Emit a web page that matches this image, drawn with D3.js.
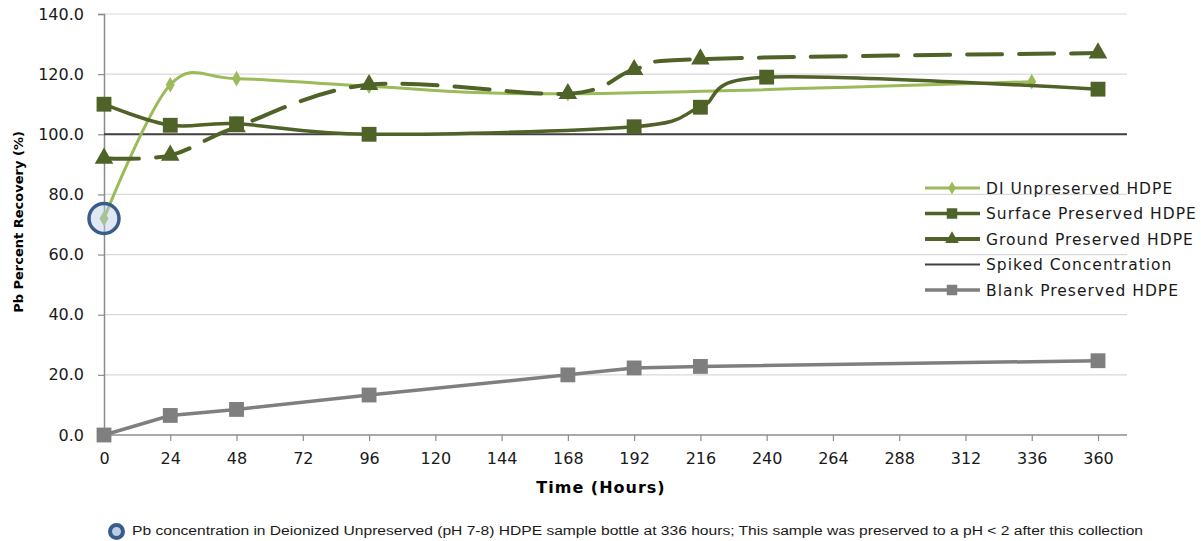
<!DOCTYPE html>
<html>
<head>
<meta charset="utf-8">
<script src="https://cdn.jsdelivr.net/npm/d3@7"></script>
<style>
  body { margin: 0; background: #fff; }
  svg { display: block; }
</style>
</head>
<body>
<div id="chart"></div>
<script>
// hours and recoveries (%)
var xTicks = [0, 24, 48, 72, 96, 120, 144, 168, 192, 216, 240, 264, 288, 312, 336, 360];
var yTicks = [0, 20, 40, 60, 80, 100, 120, 140];

var diHours    = [0, 24, 48, 96, 168, 336];
var diValues   = [72, 116.5, 118.5, 116, 113.5, 117.5];

var surfHours  = [0, 24, 48, 96, 192, 216, 240, 360];
var surfValues = [110, 103, 103.5, 100, 102.5, 109, 119, 115];

var groundHours  = [0, 24, 48, 96, 168, 192, 216, 360];
var groundValues = [92, 93, 102.5, 116.5, 113.5, 121.5, 125, 127];

var blankHours  = [0, 24, 48, 96, 168, 192, 216, 360];
var blankValues = [0, 6.5, 8.5, 13.3, 20, 22.3, 22.8, 24.7];

var spiked = 100;
var flagged = {hour: 0, value: 72};

var legendNames = ["DI Unpreserved HDPE", "Surface Preserved HDPE", "Ground Preserved HDPE",
                   "Spiked Concentration", "Blank Preserved HDPE"];
var footnote = "Pb concentration in Deionized Unpreserved (pH 7-8) HDPE sample bottle at 336 hours;  This sample was preserved to a pH < 2 after  this collection";

var W = 1201, H = 541;
var svg = d3.select("#chart").append("svg").attr("width", W).attr("height", H);

var x = d3.scaleLinear().domain([0, 370.5]).range([104, 1127]);
var y = d3.scaleLinear().domain([0, 140]).range([435, 14]);

var font = "'DejaVu Sans', Verdana, sans-serif";

// gridlines
svg.append("g").selectAll("line").data(yTicks.filter(function(d) { return d > 0; }))
  .enter().append("line")
  .attr("x1", x(0)).attr("x2", x.range()[1])
  .attr("y1", function(d) { return y(d); }).attr("y2", function(d) { return y(d); })
  .attr("stroke", "#d9d9d9").attr("stroke-width", 1.2);

// axes
var yAxis = svg.append("g").attr("transform", "translate(" + x(0) + ",0)")
  .call(d3.axisLeft(y).tickValues(yTicks).tickFormat(d3.format(".1f")).tickSize(6).tickPadding(14));
var xAxis = svg.append("g").attr("transform", "translate(0," + y(0) + ")")
  .call(d3.axisBottom(x).tickValues(xTicks).tickSize(6).tickPadding(12));
[xAxis, yAxis].forEach(function(a) {
  a.select(".domain").attr("stroke", "#8c8c8c").attr("stroke-width", 1.5);
  a.selectAll(".tick line").attr("stroke", "#8c8c8c").attr("stroke-width", 1.2);
  a.selectAll("text").attr("font-family", font).attr("font-size", 16).attr("fill", "#1a1a1a");
});
// x axis line runs full width
xAxis.select(".domain").attr("d", "M" + x(0) + ",0H" + x.range()[1]);

// axis titles
svg.append("text").attr("x", 601).attr("y", 493).attr("text-anchor", "middle")
  .attr("font-family", font).attr("font-size", 16).attr("font-weight", "bold")
  .attr("letter-spacing", 1).text("Time (Hours)");
svg.append("text").attr("transform", "translate(23,222) rotate(-90)").attr("text-anchor", "middle")
  .attr("font-family", font).attr("font-size", 13).attr("font-weight", "bold")
  .text("Pb Percent Recovery (%)");

function pts(hs, vs) { return hs.map(function(h, i) { return [h, vs[i]]; }); }

var smooth = d3.line().x(function(d) { return x(d[0]); }).y(function(d) { return y(d[1]); })
  .curve(d3.curveCardinal.tension(0));
var straight = d3.line().x(function(d) { return x(d[0]); }).y(function(d) { return y(d[1]); });

var lightGreen = "#9bbb59", darkGreen = "#4f6228", gray = "#7f7f7f", spikeCol = "#404040";

// spiked concentration
svg.append("line").attr("x1", x(0)).attr("x2", x.range()[1])
  .attr("y1", y(spiked)).attr("y2", y(spiked))
  .attr("stroke", spikeCol).attr("stroke-width", 2);

var sym = {
  diamond: d3.symbol().type(d3.symbolDiamond).size(70),
  square: d3.symbol().type(d3.symbolSquare).size(220),
  triangle: d3.symbol().type(d3.symbolTriangle).size(150)
};

function series(data, color, width, dash, curve, shape) {
  var g = svg.append("g");
  g.append("path").attr("d", curve(data)).attr("fill", "none")
    .attr("stroke", color).attr("stroke-width", width)
    .attr("stroke-dasharray", dash || null).attr("stroke-linecap", "round");
  g.selectAll("path.m").data(data).enter().append("path").attr("class", "m")
    .attr("transform", function(d) { return "translate(" + x(d[0]) + "," + y(d[1]) + ")"; })
    .attr("d", sym[shape]).attr("fill", color);
}

series(pts(diHours, diValues), lightGreen, 3, null, smooth, "diamond");
series(pts(surfHours, surfValues), darkGreen, 3.5, null, smooth, "square");
series(pts(groundHours, groundValues), darkGreen, 4, "35,17", smooth, "triangle");
series(pts(blankHours, blankValues), gray, 3.5, null, straight, "square");

// flagged point circle
svg.append("circle").attr("cx", x(flagged.hour)).attr("cy", y(flagged.value)).attr("r", 15)
  .attr("fill", "#b9cde5").attr("fill-opacity", 0.45)
  .attr("stroke", "#385d8a").attr("stroke-width", 3.5);

// legend
var legendStyles = [
  {c: lightGreen, w: 3, shape: "diamond"},
  {c: darkGreen, w: 3.5, shape: "square"},
  {c: darkGreen, w: 4, shape: "triangle"},
  {c: spikeCol, w: 2, shape: null},
  {c: gray, w: 3.5, shape: "square"}
];
var legend = svg.append("g");
legendNames.forEach(function(name, i) {
  var yy = 188 + i * 25.5, st = legendStyles[i];
  var lg = legend.append("g");
  lg.append("line").attr("x1", 925).attr("x2", 980).attr("y1", yy).attr("y2", yy)
    .attr("stroke", st.c).attr("stroke-width", st.w);
  if (st.shape) lg.append("path").attr("transform", "translate(952," + yy + ")")
    .attr("d", st.shape === "square" ? d3.symbol().type(d3.symbolSquare).size(110)()
               : st.shape === "triangle" ? d3.symbol().type(d3.symbolTriangle).size(80)()
               : d3.symbol().type(d3.symbolDiamond).size(50)()).attr("fill", st.c);
  lg.append("text").attr("x", 986).attr("y", yy + 5.5).attr("font-family", font)
    .attr("font-size", 15.5).attr("letter-spacing", 1).attr("fill", "#1a1a1a").text(name);
});

// footnote
svg.append("circle").attr("cx", 116.5).attr("cy", 531.5).attr("r", 6.5)
  .attr("fill", "#b9cde5").attr("stroke", "#385d8a").attr("stroke-width", 4);
svg.append("text").attr("x", 132).attr("y", 535).attr("font-family", "'Liberation Sans', Arial, sans-serif")
  .attr("font-size", 12).attr("fill", "#1a1a1a")
  .attr("textLength", 1011).attr("lengthAdjust", "spacingAndGlyphs").text(footnote);
</script>
</body>
</html>
